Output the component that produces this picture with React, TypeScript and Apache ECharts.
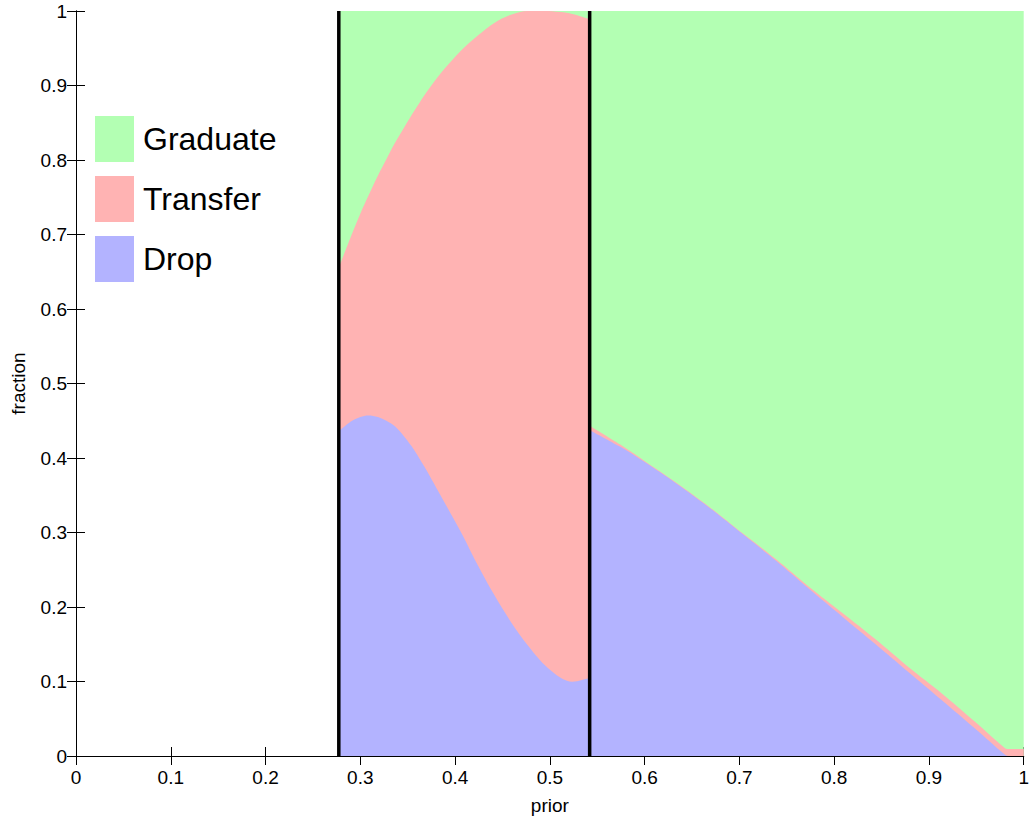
import React, { useEffect, useRef } from "react";
import * as echarts from "echarts";

// Segment 1 (between the two thresholds)
const seg1Prior = [0.2775, 0.29, 0.3, 0.3085, 0.3185, 0.3275, 0.3365, 0.345, 0.354, 0.3625, 0.3715, 0.389, 0.4064, 0.424, 0.4414, 0.4589, 0.4764, 0.494, 0.5113, 0.5236, 0.542];
const seg1Drop = [0.436, 0.449, 0.455, 0.457, 0.455, 0.45, 0.4427, 0.431, 0.416, 0.399, 0.38, 0.34, 0.3, 0.256, 0.216, 0.18, 0.149, 0.1227, 0.105, 0.0996, 0.105];
const seg1Transfer = [0.22, 0.248, 0.273, 0.295, 0.324, 0.351, 0.38, 0.41, 0.444, 0.478, 0.514, 0.5827, 0.647, 0.711, 0.768, 0.815, 0.851, 0.8773, 0.8935, 0.8964, 0.884];
const seg1Graduate = [0.344, 0.303, 0.272, 0.248, 0.221, 0.199, 0.1773, 0.159, 0.14, 0.123, 0.106, 0.0773, 0.053, 0.033, 0.016, 0.005, 0, 0, 0.0015, 0.004, 0.011];

// Segment 2 (above the upper threshold)
const seg2Prior = [0.542, 0.5743, 0.5988, 0.6338, 0.6687, 0.7038, 0.7387, 0.7737, 0.8087, 0.8437, 0.8786, 0.9136, 0.9486, 0.98, 0.9835, 1.0];
const seg2Drop = [0.4373, 0.415, 0.3955, 0.3655, 0.333, 0.2975, 0.262, 0.224, 0.187, 0.15, 0.1125, 0.075, 0.037, 0.002, 0, 0];
const seg2Transfer = [0.006, 0.003, 0.0015, 0.001, 0.001, 0.001, 0.002, 0.003, 0.005, 0.0066, 0.0067, 0.009, 0.009, 0.0087, 0.0093, 0.0093];
const seg2Graduate = [0.5567, 0.582, 0.603, 0.6335, 0.666, 0.7015, 0.736, 0.773, 0.808, 0.8434, 0.8808, 0.916, 0.954, 0.9893, 0.9907, 0.9907];

// Decision thresholds (vertical lines)
const thresholds = [0.2773, 0.542];

const categories = ["Graduate", "Transfer", "Drop"];
const colors: Record<string, string> = {
  Graduate: "#b3ffb3",
  Transfer: "#ffb3b3",
  Drop: "#b3b3ff",
};

const FONT = "'Liberation Sans', Arial, Helvetica, sans-serif";

function cumulative(xs: number[], parts: number[][]) {
  return xs.map((x, i) => [x, parts.reduce((s, p) => s + p[i], 0)]);
}

function areaSeries(name: string, data: number[][]) {
  return {
    name,
    type: "line",
    data,
    showSymbol: false,
    symbol: "none",
    silent: true,
    color: colors[name],
    itemStyle: { color: colors[name] },
    lineStyle: { width: 0, color: colors[name] },
    areaStyle: { color: colors[name], opacity: 1 },
    smooth: 0.3,
  };
}

export default function App() {
  const ref = useRef<HTMLDivElement>(null);

  useEffect(() => {
    if (!ref.current) return;
    const chart = echarts.init(ref.current, undefined, { renderer: "svg" });

    const series: any[] = [
      areaSeries("Graduate", cumulative(seg1Prior, [seg1Drop, seg1Transfer, seg1Graduate])),
      areaSeries("Graduate", cumulative(seg2Prior, [seg2Drop, seg2Transfer, seg2Graduate])),
      areaSeries("Transfer", cumulative(seg1Prior, [seg1Drop, seg1Transfer])),
      areaSeries("Transfer", cumulative(seg2Prior, [seg2Drop, seg2Transfer])),
      areaSeries("Drop", cumulative(seg1Prior, [seg1Drop])),
      areaSeries("Drop", cumulative(seg2Prior, [seg2Drop])),
      ...thresholds.map((t, i) => ({
        name: "threshold" + i,
        type: "line",
        data: [
          [t, 0],
          [t, 1],
        ],
        showSymbol: false,
        symbol: "none",
        silent: true,
        z: 5,
        lineStyle: { color: "#000", width: 3.5 },
      })),
    ];

    const tickStyle = {
      show: true,
      inside: true,
      length: 9,
      lineStyle: { color: "#000", width: 1 },
    };
    const lineStyle = { show: true, lineStyle: { color: "#000", width: 1 } };
    const labelStyle = {
      color: "#000",
      fontFamily: FONT,
      fontSize: 19,
    };

    chart.setOption({
      animation: false,
      backgroundColor: "#fff",
      grid: { left: 76, right: 4, top: 11, bottom: 58, containLabel: false },
      legend: {
        data: categories,
        orient: "vertical",
        left: 95,
        top: 116,
        padding: 0,
        itemWidth: 39,
        itemHeight: 46,
        itemGap: 14,
        icon: "rect",
        selectedMode: false,
        itemStyle: { borderWidth: 0 },
        textStyle: { color: "#000", fontFamily: FONT, fontSize: 32, padding: [0, 0, 0, 4] },
      },
      xAxis: [
        {
          type: "value",
          min: 0,
          max: 1,
          interval: 0.1,
          name: "prior",
          nameLocation: "middle",
          nameGap: 40,
          nameTextStyle: { color: "#000", fontFamily: FONT, fontSize: 19 },
          axisLine: lineStyle,
          axisTick: tickStyle,
          axisLabel: { ...labelStyle, margin: 12 },
          splitLine: { show: false },
        },
        {
          type: "value",
          position: "top",
          min: 0,
          max: 1,
          interval: 0.1,
          axisLine: lineStyle,
          axisTick: tickStyle,
          axisLabel: { show: false },
          splitLine: { show: false },
        },
      ],
      yAxis: [
        {
          type: "value",
          min: 0,
          max: 1,
          interval: 0.1,
          name: "fraction",
          nameLocation: "middle",
          nameGap: 48,
          nameTextStyle: { color: "#000", fontFamily: FONT, fontSize: 19 },
          axisLine: lineStyle,
          axisTick: tickStyle,
          axisLabel: { ...labelStyle, margin: 9 },
          splitLine: { show: false },
        },
        {
          type: "value",
          position: "right",
          min: 0,
          max: 1,
          interval: 0.1,
          axisLine: lineStyle,
          axisTick: tickStyle,
          axisLabel: { show: false },
          splitLine: { show: false },
        },
      ],
      series,
    });

    return () => chart.dispose();
  }, []);

  return (
    <div
      ref={ref}
      style={{ position: "absolute", left: 0, top: 0, width: 1032, height: 820 }}
    />
  );
}
